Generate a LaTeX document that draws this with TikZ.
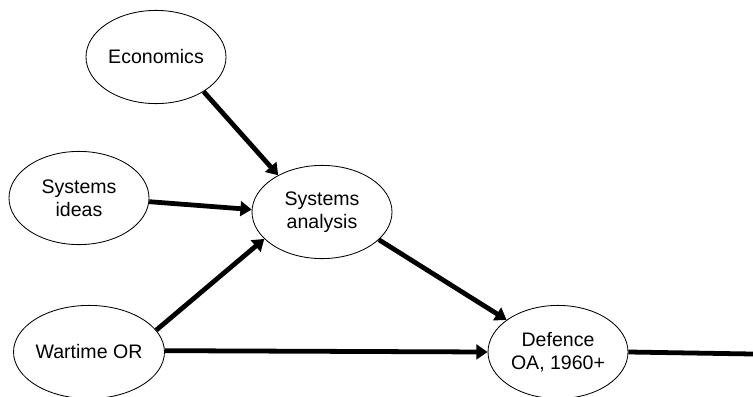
\documentclass[tikz,border=0pt]{standalone}
\usepackage{fontspec}
\setmainfont{Liberation Sans}
\usetikzlibrary{shapes.geometric,arrows.meta}
\tikzset{
	oval/.style={draw, ellipse, line width=0.6pt, minimum width=3.5cm, minimum height=2.33cm, inner sep=0pt, align=center, font=\fontsize{13.9}{16.3}\selectfont},
	flow/.style={line width=3.4pt, -{Triangle[length=8pt,width=10.5pt]}}
}

\begin{document}
\begin{tikzpicture}
			%%%%% START %%%%%
			
			\useasboundingbox (0, 0) rectangle (18.825, -9.9);
			
			\node[oval] (econ) at (3.9, -1.425) {Economics};
			\node[oval] (ideas) at (1.975, -4.95) {Systems\\ideas};
			\node[oval] (sysan) at (8.05, -5.3) {Systems\\analysis};
			\node[oval] (warOR) at (2.225, -8.8) {Wartime OR};
			\node[oval] (defOA) at (13.95, -8.8) {Defence\\OA, 1960+};
			\coordinate (outR) at (18.825, -8.85);
			
			\draw[flow] (econ.-36) -- (sysan.140);
			\draw[flow] (ideas.-3) -- (sysan.178);
			\draw[flow] (warOR.18) -- (sysan.205);
			\draw[flow] (sysan.-26) -- (defOA.148);
			\draw[flow] (warOR.1) -- (defOA.180);
			\draw[line width=3.4pt] (defOA.0) -- (outR);
			
			%%%%% END %%%%%
		\end{tikzpicture}
\end{document}
